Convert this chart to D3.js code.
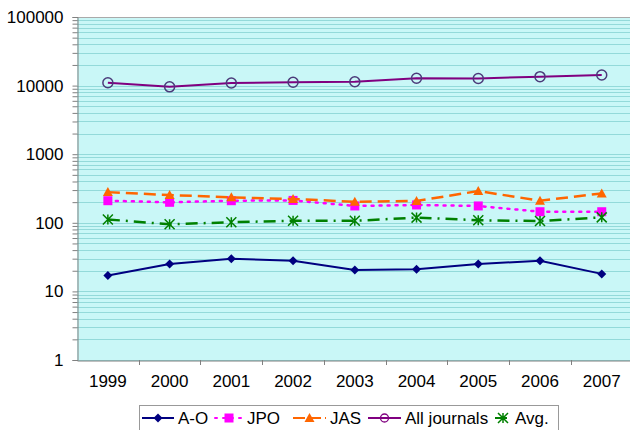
<!DOCTYPE html>
<html><head><meta charset="utf-8">
<script src="https://cdn.jsdelivr.net/npm/d3@7"></script>
<style>body{margin:0;background:#fff;}svg{display:block;font-family:"Liberation Sans",Arial,sans-serif;}</style>
</head><body>
<svg id="c" width="630" height="430"></svg>
<script>
const years = ["1999","2000","2001","2002","2003","2004","2005","2006","2007"];
const aoValues = [17, 25, 30, 28, 20.5, 21, 25, 28, 18];
const jpoValues = [210, 199, 210, 212, 176, 182, 176, 145, 145];
const jasValues = [280, 254, 235, 222, 203, 208, 290, 210, 268];
const allValues = [11000, 9600, 10900, 11200, 11400, 12800, 12700, 13500, 14300];
const avgValues = [112, 95, 102, 107, 107, 119, 109, 106, 120];
const yTicks = [1, 10, 100, 1000, 10000, 100000];
const seriesNames = ["A-O", "JPO", "JAS", "All journals", "Avg."];

const FONT = "'Liberation Sans', Arial, sans-serif";
const series = [
  {name: seriesNames[0], values: aoValues, color: "#000080", dash: null, marker: "diamond"},
  {name: seriesNames[1], values: jpoValues, color: "#ff00ff", dash: "2,6", cap: "round", marker: "square"},
  {name: seriesNames[2], values: jasValues, color: "#ff6600", dash: "12,6", marker: "triangle"},
  {name: seriesNames[3], values: allValues, color: "#800080", dash: null, marker: "circle"},
  {name: seriesNames[4], values: avgValues, color: "#008000", dash: "12,6,2,6", marker: "star"}
];

const svg = d3.select("#c");
const L = 77, R = 632.6, T = 17, B = 360;
const x = d3.scaleBand().domain(years).range([L, R]);
const y = d3.scaleLog().domain([1, 100000]).range([B, T]);

// background
svg.append("rect").attr("x", L).attr("y", T).attr("width", R - L).attr("height", B - T).attr("fill", "#c9f7f7");

// gridlines (major + minor)
const gridVals = [];
for (let d = 1; d < 100000; d *= 10) for (let k = 1; k <= 9; k++) gridVals.push(d * k);
gridVals.push(100000);
svg.append("g").selectAll("line").data(gridVals).join("line")
  .attr("x1", L).attr("x2", R)
  .attr("y1", d => Math.round(y(d)) + 0.5).attr("y2", d => Math.round(y(d)) + 0.5)
  .attr("stroke", "#93dada").attr("stroke-width", 1);

// top border
svg.append("line").attr("x1", L).attr("x2", R).attr("y1", T + 0.5).attr("y2", T + 0.5).attr("stroke", "#aaaaaa");

// y axis
const yAxis = d3.axisLeft(y).tickValues(gridVals).tickSize(5).tickFormat(d => yTicks.includes(d) ? d3.format("d")(d) : "");
const yg = svg.append("g").attr("transform", `translate(${L + 0.5},0)`).call(yAxis);
yg.select(".domain").attr("stroke", "#808080");
yg.selectAll(".tick line").attr("stroke", "#808080");
yg.selectAll(".tick text").attr("font-size", 17).attr("fill", "#000").attr("x", -14).attr("font-family", FONT);

// x axis
const xAxis = d3.axisBottom(x).tickSize(0).tickPadding(14);
const xg = svg.append("g").attr("transform", `translate(0,${B + 0.5})`).call(xAxis);
xg.select(".domain").attr("stroke", "#808080");
xg.selectAll(".tick text").attr("font-size", 17).attr("fill", "#000").attr("font-family", FONT);
// x tick marks at band boundaries
svg.append("g").selectAll("line").data(years.slice(1)).join("line")
  .attr("x1", d => Math.round(x(d)) + 0.5).attr("x2", d => Math.round(x(d)) + 0.5)
  .attr("y1", B).attr("y2", B + 5).attr("stroke", "#808080");

const cx = d => x(d) + x.bandwidth() / 2;

function drawMarker(g, type, color, px, py) {
  if (type === "diamond") {
    g.append("path").attr("d", `M${px},${py-4.5}L${px+4.5},${py}L${px},${py+4.5}L${px-4.5},${py}Z`).attr("fill", color);
  } else if (type === "square") {
    g.append("rect").attr("x", px - 4.5).attr("y", py - 4.5).attr("width", 9).attr("height", 9).attr("fill", color);
  } else if (type === "triangle") {
    g.append("path").attr("d", `M${px},${py-5}L${px+5},${py+4}L${px-5},${py+4}Z`).attr("fill", color);
  } else if (type === "circle") {
    g.append("circle").attr("cx", px).attr("cy", py).attr("r", 5).attr("fill", "none").attr("stroke", "#4b3a7a").attr("stroke-width", 1.5);
  } else if (type === "star") {
    g.append("path").attr("d", `M${px-5},${py-5}L${px+5},${py+5}M${px-5},${py+5}L${px+5},${py-5}M${px},${py-5}L${px},${py+5}`)
      .attr("stroke", color).attr("stroke-width", 1.5).attr("fill", "none");
  }
}

const line = d3.line().x(d => cx(d[0])).y(d => y(d[1]));
series.forEach(s => {
  const pts = years.map((yr, i) => [yr, s.values[i]]);
  const g = svg.append("g");
  g.append("path").attr("d", line(pts)).attr("fill", "none").attr("stroke", s.color)
    .attr("stroke-width", s.dash ? 2.5 : 2).attr("stroke-dasharray", s.dash)
    .attr("stroke-linecap", s.cap || "butt");
  pts.forEach(p => drawMarker(g, s.marker, s.color, cx(p[0]), y(p[1])));
});

// legend
const lg = svg.append("g");
lg.append("rect").attr("x", 139.5).attr("y", 405.5).attr("width", 419).attr("height", 25).attr("fill", "#fff").attr("stroke", "#999");
const legPos = [[142, 178], [215, 247], [293, 330], [368, 405], [495, 515]];
series.forEach((s, i) => {
  const [x0, tx] = legPos[i];
  const ly = 418;
  const x1 = tx - 4;
  lg.append("line").attr("x1", x0).attr("x2", x1).attr("y1", ly).attr("y2", ly)
    .attr("stroke", s.color).attr("stroke-width", 2).attr("stroke-dasharray", s.dash ? (s.marker === "star" ? "12,5,2,5" : (s.marker === "square" ? "2,6" : "12,4")) : null)
    .attr("stroke-linecap", s.cap || "butt");
  const mg = lg.append("g");
  if (s.marker === "circle") {
    mg.append("circle").attr("cx", (x0 + x1) / 2).attr("cy", ly).attr("r", 4).attr("fill", "none").attr("stroke", s.color).attr("stroke-width", 1.3);
  } else {
    drawMarker(mg, s.marker, s.color, (x0 + x1) / 2, ly);
  }
  lg.append("text").attr("x", tx).attr("y", ly + 6).attr("font-size", 17).attr("font-family", FONT).attr("fill", "#000").text(s.name);
});
</script>
</body></html>
